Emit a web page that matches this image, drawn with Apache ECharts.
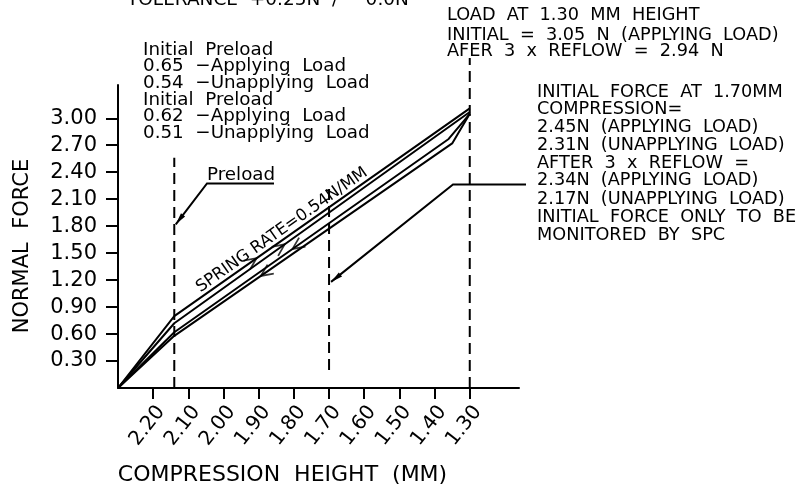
<!DOCTYPE html>
<html><head><meta charset="utf-8">
<script src="https://cdn.jsdelivr.net/npm/echarts@6/dist/echarts.min.js"></script>
<style>html,body{margin:0;padding:0;background:#fff}#c{width:800px;height:490px}</style>
</head><body><div id="c"></div>
<script>
// ---- data (compression height in mm, normal force in N) ----
const heightTicks = [2.20, 2.10, 2.00, 1.90, 1.80, 1.70, 1.60, 1.50, 1.40, 1.30];
const forceTicks  = [0.30, 0.60, 0.90, 1.20, 1.50, 1.80, 2.10, 2.40, 2.70, 3.00];
const heightRange = [1.16, 2.30];
const forceRange  = [0, 3.37];

const initialApplying   = [[2.30, 0], [2.14, 0.80], [1.30, 3.11]];
const reflowApplying    = [[2.30, 0], [2.14, 0.72], [1.30, 3.07]];
const initialUnapplying = [[2.30, 0], [2.14, 0.62], [1.36, 2.77], [1.30, 3.05]];
const reflowUnapplying  = [[2.30, 0], [2.14, 0.58], [1.35, 2.72], [1.30, 3.05]];

const preloadGuide = [[2.14, 0], [2.14, 2.56]];
const guide170     = [[1.70, 0.20], [1.70, 2.27]];
const guide130     = [[1.30, 0], [1.30, 3.67]];

// direction arrows: [curve index, height, direction(+1 applying / -1 unapplying)]
const flowArrows = [[0, 1.92, 1], [1, 1.84, 1], [2, 1.79, -1], [3, 1.88, -1]];
// leader targets
const preloadTarget = [2.14, 1.82];
const force170Target = [1.70, 1.18];

const curves = [initialApplying, reflowApplying, initialUnapplying, reflowUnapplying];

const FONT = '"DejaVu Sans", sans-serif';
const chart = echarts.init(document.getElementById('c'));

const solid = (name, data) => ({type: 'line', name, data, symbol: 'none', clip: false, silent: true,
  lineStyle: {color: '#000', width: 2}, z: 3});
const dashed = (name, data) => ({type: 'line', name, data, symbol: 'none', clip: false, silent: true,
  lineStyle: {color: '#000', width: 2, type: [11, 6]}, z: 2});

const baseSeries = [
  solid('Initial applying', initialApplying),
  solid('After reflow applying', reflowApplying),
  solid('Initial unapplying', initialUnapplying),
  solid('After reflow unapplying', reflowUnapplying),
  dashed('Preload', preloadGuide),
  dashed('1.70', guide170),
  dashed('1.30', guide130)
];

chart.setOption({
  animation: false,
  backgroundColor: '#fff',
  grid: {left: 118, right: 281, top: 85, bottom: 102, containLabel: false, outerBoundsMode: 'none'},
  xAxis: {
    type: 'value', inverse: true, min: heightRange[0], max: heightRange[1],
    axisLine: {lineStyle: {color: '#000', width: 2}},
    axisTick: {show: true, inside: false, length: 11, lineStyle: {color: '#000', width: 2}, customValues: heightTicks},
    axisLabel: {customValues: heightTicks, formatter: v => v.toFixed(2), rotate: 52, margin: 14,
      verticalAlign: 'top', fontFamily: FONT, fontSize: 20, color: '#000'},
    splitLine: {show: false},
    name: 'COMPRESSION  HEIGHT  (MM)', nameLocation: 'middle', nameGap: 76,
    nameTextStyle: {fontFamily: FONT, fontSize: 22, color: '#000', padding: [0, 72, 0, 0]}
  },
  yAxis: {
    type: 'value', min: forceRange[0], max: forceRange[1],
    axisLine: {show: true, lineStyle: {color: '#000', width: 2}},
    axisTick: {show: true, inside: false, length: 12, lineStyle: {color: '#000', width: 2}, customValues: forceTicks},
    axisLabel: {customValues: forceTicks, formatter: v => v.toFixed(2), margin: 21,
      fontFamily: FONT, fontSize: 21, color: '#000'},
    splitLine: {show: false},
    name: 'NORMAL  FORCE', nameLocation: 'middle', nameGap: 85,
    nameTextStyle: {fontFamily: FONT, fontSize: 21, color: '#000', padding: [0, 19, 0, 0]}
  },
  series: baseSeries
});

// ---- annotations ----
const toPx = p => chart.convertToPixel({gridIndex: 0}, p);

function segmentAt(curve, h) {
  for (let i = 0; i < curve.length - 1; i++) {
    const a = curve[i], b = curve[i + 1];
    if (h <= a[0] && h >= b[0]) {
      const t = (a[0] - h) / (a[0] - b[0]);
      return {a, b, y: a[1] + t * (b[1] - a[1])};
    }
  }
  return null;
}

const arrowData = flowArrows.map(([ci, h, dir]) => {
  const s = segmentAt(curves[ci], h);
  const pa = toPx(s.a), pb = toPx(s.b);
  let ang = Math.atan2(-(pb[1] - pa[1]), pb[0] - pa[0]) * 180 / Math.PI;
  if (dir < 0) ang += 180;
  return {value: [h, s.y], symbolRotate: ang};
});

const arrowSeries = {
  type: 'scatter', name: 'direction', data: arrowData, silent: true, z: 4,
  symbol: 'path://M0,0L12,5L0,10', symbolSize: [12, 11],
  itemStyle: {color: 'transparent', borderColor: '#000', borderWidth: 1.8}
};

function arrowHead(tip, from, len, half) {
  const dx = tip[0] - from[0], dy = tip[1] - from[1];
  const d = Math.hypot(dx, dy), ux = dx / d, uy = dy / d;
  const bx = tip[0] - ux * len, by = tip[1] - uy * len;
  return {type: 'polygon', z: 10, shape: {points: [tip, [bx - uy * half, by + ux * half], [bx + uy * half, by - ux * half]]},
    style: {fill: '#000'}};
}

const g = [];
const txt = (x, y, text, size, extra) => g.push(Object.assign({type: 'text', x, y, z: 10,
  style: {text, fontFamily: FONT, fontSize: size, fill: '#000', align: 'left', verticalAlign: 'middle'}}, extra || {}));

txt(127, 0, 'TOLERANCE  +0.25N  /  \u22120.0N', 18.5);

const leftLines = ['Initial  Preload', '0.65  \u2212Applying  Load', '0.54  \u2212Unapplying  Load',
  'Initial  Preload', '0.62  \u2212Applying  Load', '0.51  \u2212Unapplying  Load'];
const leftY = [50, 66.5, 83, 100, 116.5, 133];
leftLines.forEach((t, i) => txt(143, leftY[i], t, 18.3));

const topRight = ['LOAD  AT  1.30  MM  HEIGHT', 'INITIAL  =  3.05  N  (APPLYING  LOAD)', 'AFER  3  x  REFLOW  =  2.94  N'];
const topRightY = [15.5, 35, 51.5];
topRight.forEach((t, i) => txt(447, topRightY[i], t, 17.7));

const rightLines = ['INITIAL  FORCE  AT  1.70MM', 'COMPRESSION=', '2.45N  (APPLYING  LOAD)', '2.31N  (UNAPPLYING  LOAD)',
  'AFTER  3  x  REFLOW  =', '2.34N  (APPLYING  LOAD)', '2.17N  (UNAPPLYING  LOAD)', 'INITIAL  FORCE  ONLY  TO  BE', 'MONITORED  BY  SPC'];
const rightY = [92.7, 109, 127, 145, 163.3, 180, 199.7, 217, 235];
rightLines.forEach((t, i) => txt(537, rightY[i], t, 17.7));

// Preload leader
const pTip = toPx(preloadTarget); pTip[0] += 1.5;
const pElbow = [207, 183.5];
txt(207, 175, 'Preload', 18.3);
g.push({type: 'polyline', z: 10, shape: {points: [[274, 183.5], pElbow, pTip]}, style: {stroke: '#000', lineWidth: 2, fill: null}});
g.push(arrowHead(pTip, pElbow, 12, 2.6));

// 1.70 leader
const rTip = toPx(force170Target); rTip[0] += 2;
const rElbow = [453, 184.5];
g.push({type: 'polyline', z: 10, shape: {points: [[526, 184.5], rElbow, rTip]}, style: {stroke: '#000', lineWidth: 2, fill: null}});
g.push(arrowHead(rTip, rElbow, 12, 2.6));

// spring rate label along initial applying curve
(function () {
  const h = 1.82;
  const s = segmentAt(initialApplying, h);
  const pa = toPx(s.a), pb = toPx(s.b);
  const ang = Math.atan2(-(pb[1] - pa[1]), pb[0] - pa[0]);
  const p = toPx([h, s.y]);
  const off = 0;
  g.push({type: 'text', z: 10, x: p[0] - Math.sin(ang) * off, y: p[1] - Math.cos(ang) * off, rotation: ang,
    style: {text: 'SPRING RATE=0.54N/MM', fontFamily: FONT, fontSize: 16.5, fill: '#000', align: 'center', verticalAlign: 'bottom'}});
})();

chart.setOption({series: baseSeries.concat([arrowSeries]), graphic: g});
</script>
</body></html>
